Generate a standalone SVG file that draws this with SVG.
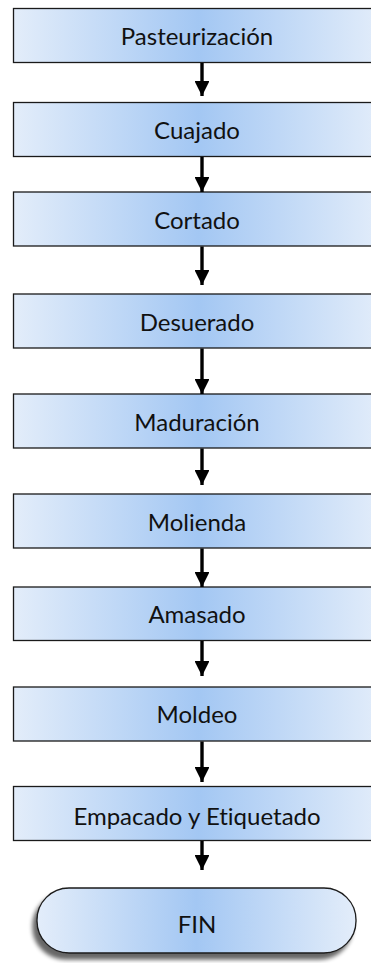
<svg xmlns="http://www.w3.org/2000/svg" width="371" height="963" viewBox="0 0 371 963">
<defs>
<linearGradient id="g" x1="0" y1="0" x2="1" y2="0">
<stop offset="0" stop-color="#e3edfa"/>
<stop offset="0.5" stop-color="#a3c7f3"/>
<stop offset="1" stop-color="#e3edfa"/>
</linearGradient>
<marker id="ah" viewBox="0 0 10 10" refX="10" refY="5" markerWidth="4.4" markerHeight="4.4" markerUnits="strokeWidth" orient="auto">
<path d="M0,0 L10,5 L0,10 Z" fill="#000"/>
</marker>
<filter id="sh" x="-20%" y="-30%" width="140%" height="170%">
<feGaussianBlur in="SourceAlpha" stdDeviation="2.2"/>
<feOffset dx="-4" dy="6" result="b"/>
<feComponentTransfer><feFuncA type="linear" slope="0.6"/></feComponentTransfer>
<feMerge><feMergeNode/><feMergeNode in="SourceGraphic"/></feMerge>
</filter>
</defs>
<style>
.box{fill:url(#g);stroke:#1a1a1a;stroke-width:1.3}
.t{font-family:Lato,"Open Sans",sans-serif;font-size:24px;fill:#111;text-anchor:middle;font-variant-ligatures:none}
.c{stroke:#000;stroke-width:3.4;fill:none;marker-end:url(#ah)}
</style>
<g id="n1"><rect class="box" x="13.5" y="8.5" width="370" height="54"/><text class="t" x="197" y="44.5">Pasteurización</text></g>
<g id="n2"><rect class="box" x="13.5" y="102.5" width="370" height="54"/><text class="t" x="197" y="139">Cuajado</text></g>
<g id="n3"><rect class="box" x="13.5" y="192" width="370" height="54"/><text class="t" x="197" y="228.5">Cortado</text></g>
<g id="n4"><rect class="box" x="13.5" y="294" width="370" height="54"/><text class="t" x="197" y="330.5">Desuerado</text></g>
<g id="n5"><rect class="box" x="13.5" y="394" width="370" height="54"/><text class="t" x="197" y="430.5">Maduración</text></g>
<g id="n6"><rect class="box" x="13.5" y="494" width="370" height="54"/><text class="t" x="197" y="530.5">Molienda</text></g>
<g id="n7"><rect class="box" x="13.5" y="587" width="370" height="53.5"/><text class="t" x="197" y="623">Amasado</text></g>
<g id="n8"><rect class="box" x="13.5" y="687" width="370" height="54"/><text class="t" x="197" y="723">Moldeo</text></g>
<g id="n9"><rect class="box" x="13.5" y="786.5" width="370" height="54"/><text class="t" x="197" y="824.5">Empacado y Etiquetado</text></g>
<g id="n10"><rect class="box" filter="url(#sh)" x="37" y="888" width="319" height="65" rx="32" ry="32"/><text class="t" x="197" y="933">FIN</text></g>
<g id="connectors">
<line class="c" x1="202" y1="63" x2="202" y2="96"/>
<line class="c" x1="202" y1="157" x2="202" y2="192"/>
<line class="c" x1="202" y1="246.5" x2="202" y2="285"/>
<line class="c" x1="202" y1="348.5" x2="202" y2="394"/>
<line class="c" x1="202" y1="448.5" x2="202" y2="485"/>
<line class="c" x1="202" y1="548.5" x2="202" y2="587"/>
<line class="c" x1="202" y1="641" x2="202" y2="676"/>
<line class="c" x1="202" y1="741.5" x2="202" y2="782"/>
<line class="c" x1="202" y1="841" x2="202" y2="870"/>
</g>
</svg>
